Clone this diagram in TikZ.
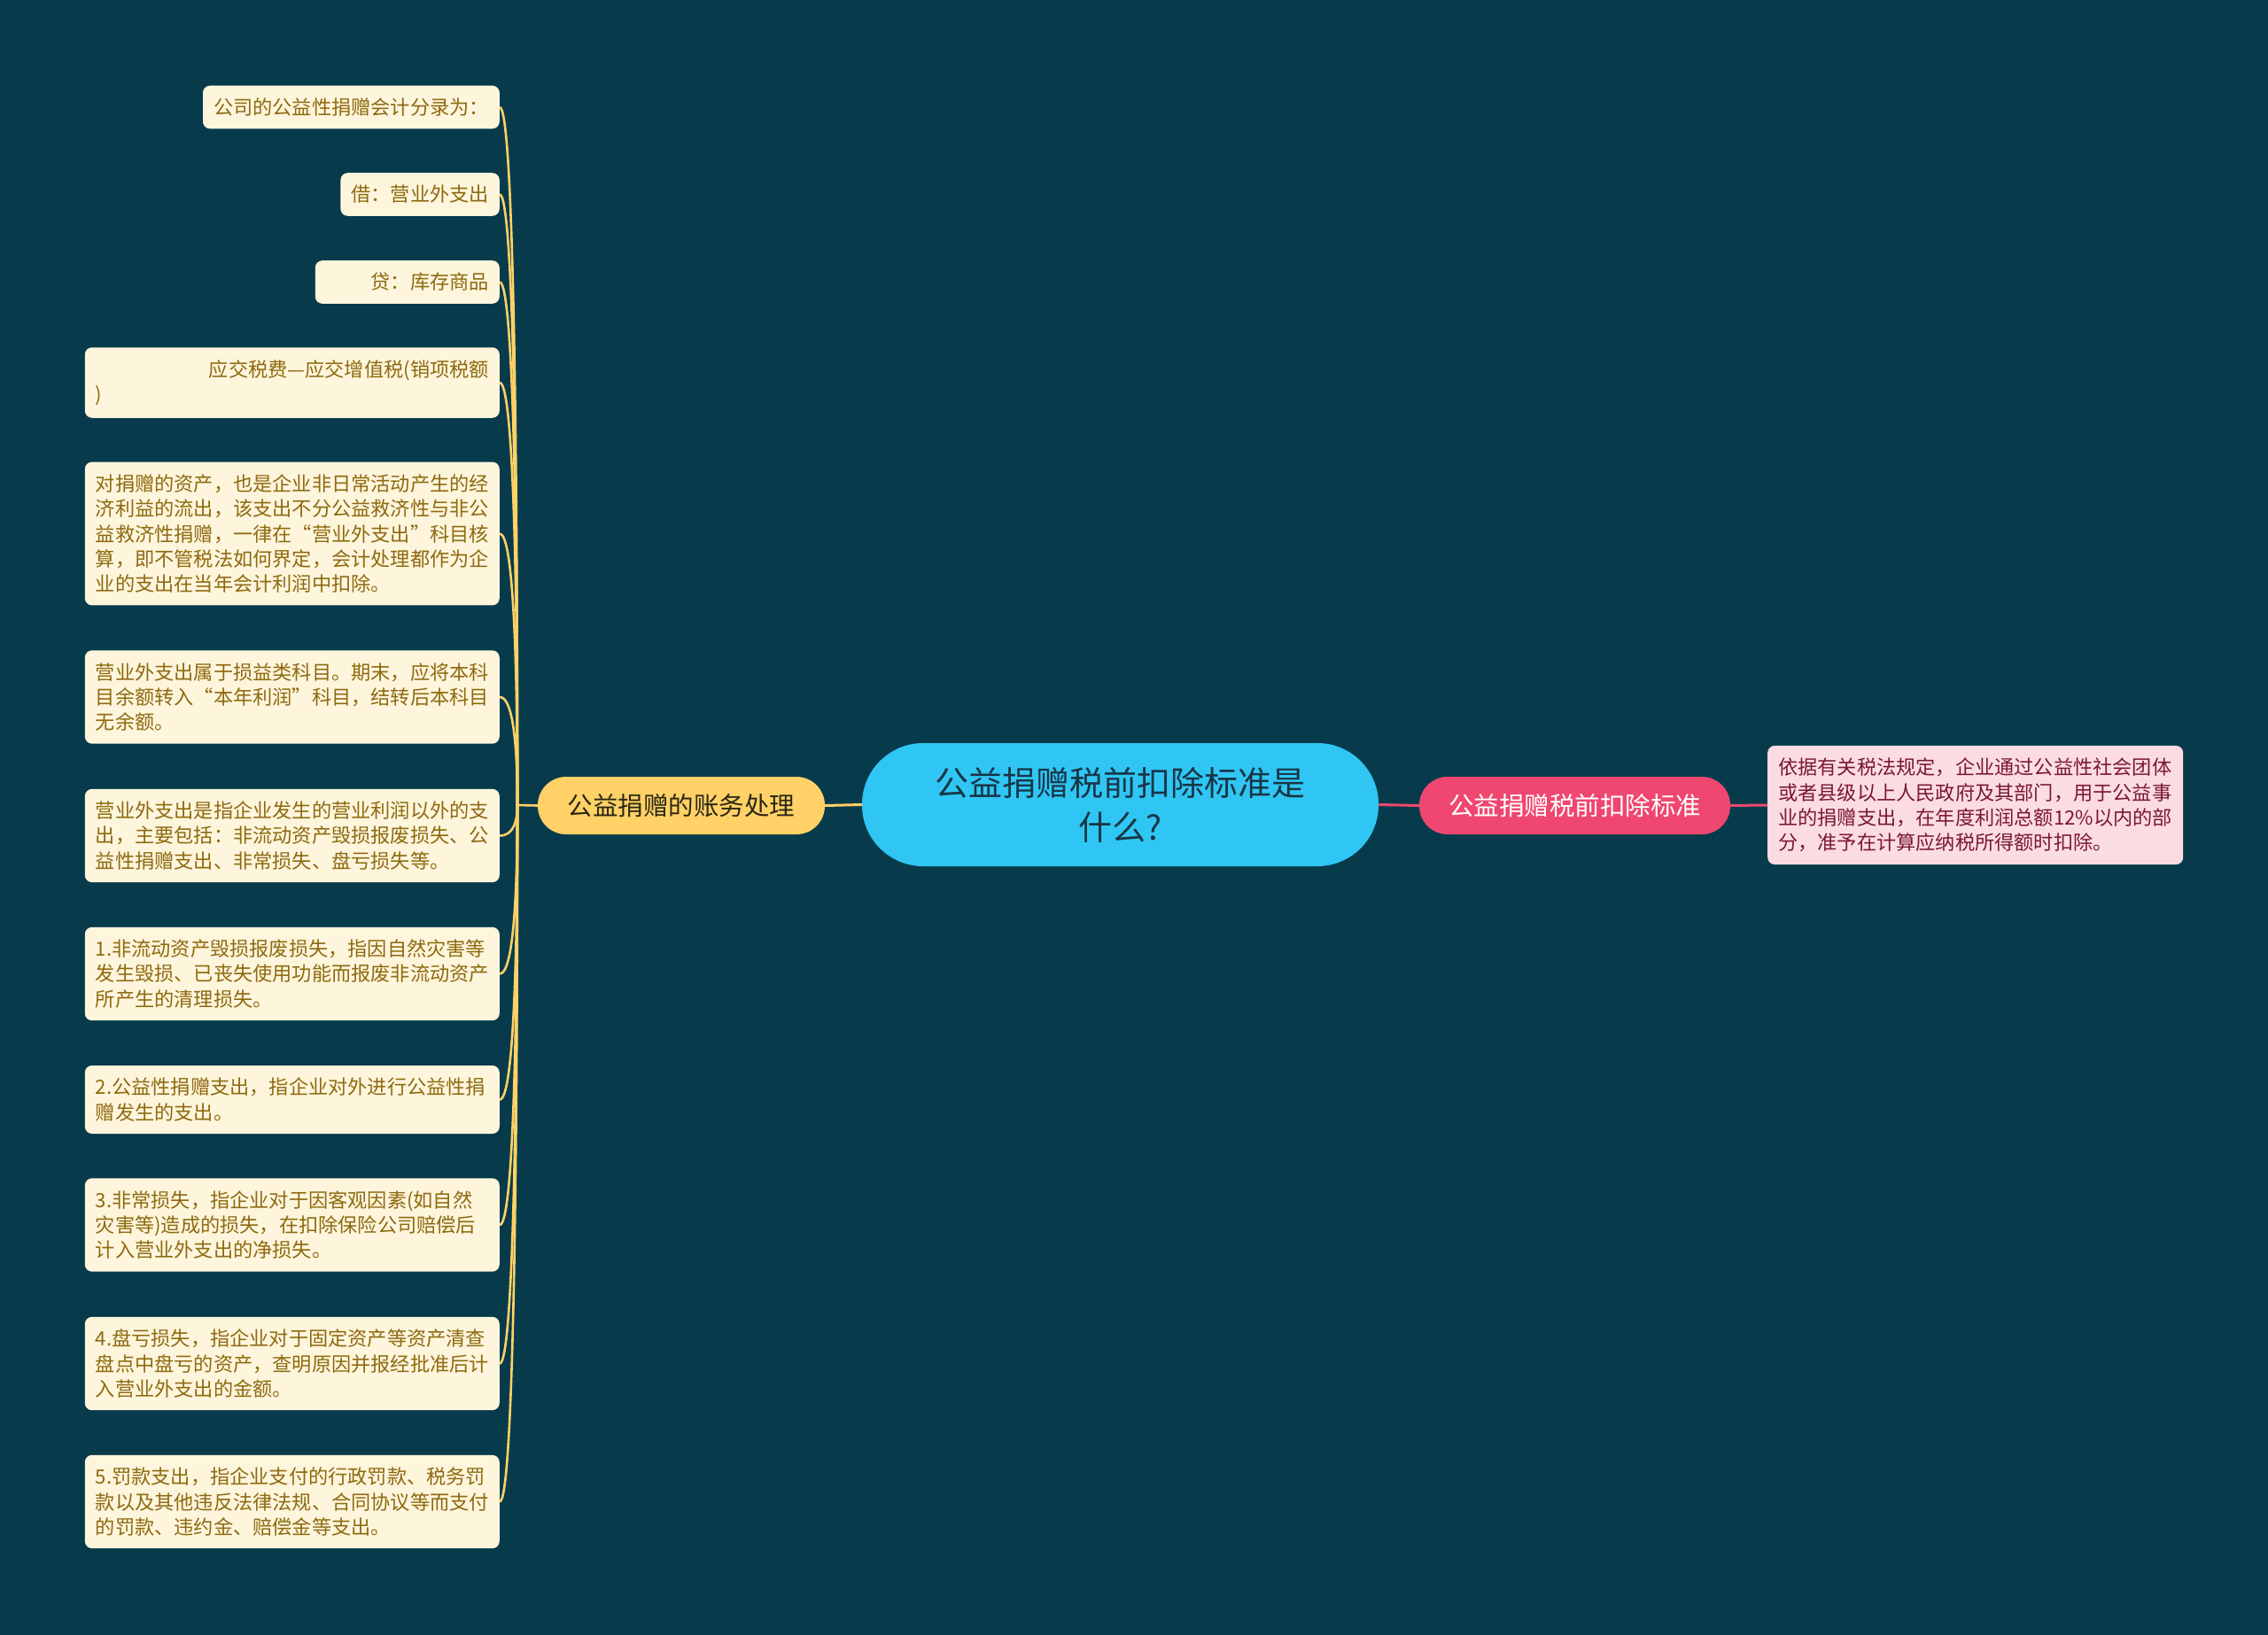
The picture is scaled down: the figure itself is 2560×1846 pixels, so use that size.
\documentclass[tikz,border=0pt]{standalone}
\usepackage{fontspec}
\setmainfont{Noto Sans CJK SC}
\usetikzlibrary{calc}
\definecolor{bg}{HTML}{073B4C}
\definecolor{ylw}{HTML}{FFD166}
\definecolor{pnk}{HTML}{EF476F}
\definecolor{blu}{HTML}{30C6F4}
\definecolor{leaffill}{HTML}{FEF5DD}
\definecolor{leaftext}{HTML}{8E6A0E}
\definecolor{rfill}{HTML}{FCDCE3}
\definecolor{rtext}{HTML}{7A1832}
\definecolor{ctext}{HTML}{173646}
\definecolor{btext}{HTML}{2B2714}
\tikzset{
  leaf/.style={fill=leaffill, text=leaftext, rounded corners=8pt, inner xsep=12pt, inner ysep=14pt,
    font=\fontsize{22.2}{28.3}\selectfont, anchor=east},
  mleaf/.style={leaf, text width=444pt, align=left},
  conn/.style={draw=ylw, line width=2.6pt},
  pconn/.style={draw=pnk, line width=3pt},
  branch/.style={rounded corners=32pt, minimum height=65pt, inner sep=0pt,
    font=\fontsize{28.5}{34}\selectfont},
}
\begin{document}
\begin{tikzpicture}[x=1pt,y=-1pt]
\fill[bg] (0,0) rectangle (2560,1846);
\useasboundingbox (0,0) rectangle (2560,1846);

% central topic
\node[fill=blu, text=ctext, rounded corners=69pt, minimum width=583pt, minimum height=139pt,
  inner sep=0pt, align=center, font=\fontsize{38}{50}\selectfont] (c) at (1264.5,908.5)
  {公益捐赠税前扣除标准是\\什么?};

% branches
\node[branch, fill=ylw, text=btext, minimum width=324pt] (lb) at (769,909.5) {公益捐赠的账务处理};
\node[branch, fill=pnk, text=white, minimum width=351pt] (rb) at (1777.5,909.5) {公益捐赠税前扣除标准};

% right leaf
\node[mleaf, fill=rfill, text=rtext, anchor=west, text width=445pt] (rl) at (1995,909)
  {依据有关税法规定，企业通过公益性社会团体\\或者县级以上人民政府及其部门，用于公益事\\业的捐赠支出，在年度利润总额12\%以内的部\\分，准予在计算应纳税所得额时扣除。};

% left leaves
\node[leaf] (l1) at (564,121) {公司的公益性捐赠会计分录为：};
\node[leaf] (l2) at (564,219.5) {借：营业外支出};
\node[leaf, text width=184pt, align=right] (l3) at (564,318.5) {贷：库存商品};
\node[mleaf] (l4) at (564,432) {\makebox[444pt][r]{应交税费—应交增值税(销项税额}\\)};
\node[mleaf] (l5) at (564,602.5) {对捐赠的资产，也是企业非日常活动产生的经\\济利益的流出，该支出不分公益救济性与非公\\益救济性捐赠，一律在“营业外支出”科目核\\算，即不管税法如何界定，会计处理都作为企\\业的支出在当年会计利润中扣除。};
\node[mleaf] (l6) at (564,787) {营业外支出属于损益类科目。期末，应将本科\\目余额转入“本年利润”科目，结转后本科目\\无余额。};
\node[mleaf] (l7) at (564,943.5) {营业外支出是指企业发生的营业利润以外的支\\出，主要包括：非流动资产毁损报废损失、公\\益性捐赠支出、非常损失、盘亏损失等。};
\node[mleaf] (l8) at (564,1099.5) {1.非流动资产毁损报废损失，指因自然灾害等\\发生毁损、已丧失使用功能而报废非流动资产\\所产生的清理损失。};
\node[mleaf] (l9) at (564,1241.5) {2.公益性捐赠支出，指企业对外进行公益性捐\\赠发生的支出。};
\node[mleaf] (l10) at (564,1383) {3.非常损失，指企业对于因客观因素(如自然\\灾害等)造成的损失，在扣除保险公司赔偿后\\计入营业外支出的净损失。};
\node[mleaf] (l11) at (564,1539.5) {4.盘亏损失，指企业对于固定资产等资产清查\\盘点中盘亏的资产，查明原因并报经批准后计\\入营业外支出的金额。};
\node[mleaf] (l12) at (564,1695.5) {5.罚款支出，指企业支付的行政罚款、税务罚\\款以及其他违反法律法规、合同协议等而支付\\的罚款、违约金、赔偿金等支出。};

% connectors
\coordinate (lj) at (584,909);
\draw[conn, line width=3pt] (c.west) -- (lb.east);
\draw[conn] (lb.west) -- (lj);
\foreach \i in {1,...,12}{
  \draw[conn] let \p1=(l\i.east), \p2=(lj) in
    (\p1) .. controls (\x1+16pt,\y1) and (\x2,{0.5*(\y1+\y2)}) .. (\p2);
}
\draw[pconn] (c.east) -- (rb.west);
\draw[pconn] (rb.east) -- (rl.west);
\end{tikzpicture}
\end{document}
